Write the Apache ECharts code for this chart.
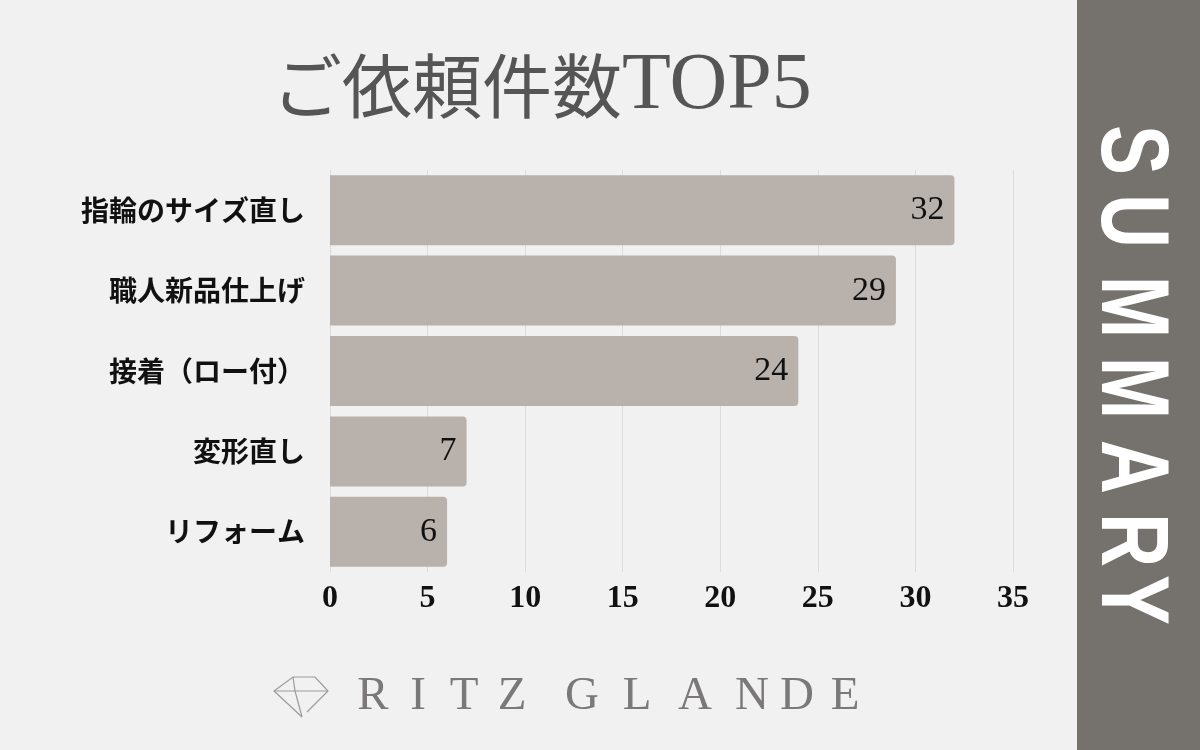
<!DOCTYPE html>
<html>
<head>
<meta charset="utf-8">
<script src="https://cdn.jsdelivr.net/npm/echarts@6/dist/echarts.min.js"></script>
<style>
  html, body { margin: 0; padding: 0; background: #f2f1f2; }
  #chart { width: 1200px; height: 750px; }
</style>
</head>
<body>
<div id="chart"></div>
<script>
const categories = ['指輪のサイズ直し', '職人新品仕上げ', '接着（ロー付）', '変形直し', 'リフォーム'];
const values = [32, 29, 24, 7, 6];
const axisMin = 0;
const axisMax = 35;
const axisStep = 5;
const titleJa = 'ご依頼件数';
const titleEn = 'TOP5';
const sideLetters = ['S', 'U', 'M', 'M', 'A', 'R', 'Y'];
const sideY = [150, 221, 307, 388, 467, 540, 600];
const brandLetters = ['R', 'I', 'T', 'Z', 'G', 'L', 'A', 'N', 'D', 'E'];
const brandX = [373, 418, 464, 512, 582, 637, 695, 752, 797, 845];

const chart = echarts.init(document.getElementById('chart'));

const brandGraphics = brandLetters.map((ch, i) => ({
  type: 'text',
  x: brandX[i],
  y: 697,
  style: {
    text: ch,
    fill: '#7a7878',
    font: 'normal 47px "Liberation Serif", "DejaVu Serif", serif',
    align: 'center',
    verticalAlign: 'middle'
  }
}));

const sideGraphics = sideLetters.map((ch, i) => ({
  type: 'text',
  x: 1128,
  y: sideY[i],
  rotation: -Math.PI / 2,
  scaleX: 0.78,
  style: {
    text: ch,
    fill: '#ffffff',
    font: 'bold 96px "Liberation Sans", "DejaVu Sans", sans-serif',
    align: 'center',
    verticalAlign: 'middle'
  }
}));

const lineStyle = { stroke: '#9c9a9a', lineWidth: 1.2, fill: null };

chart.setOption({
  backgroundColor: '#f2f1f2',
  animation: false,
  grid: { left: 330, right: 187, top: 170, bottom: 178, containLabel: false },
  xAxis: {
    type: 'value',
    min: axisMin,
    max: axisMax,
    interval: axisStep,
    axisLine: { show: false },
    axisTick: { show: false },
    splitLine: { show: true, lineStyle: { color: '#dddbdc', width: 1 } },
    axisLabel: {
      color: '#111',
      fontFamily: '"Liberation Serif", "DejaVu Serif", serif',
      fontWeight: 'bold',
      fontSize: 32,
      margin: 11
    }
  },
  yAxis: {
    type: 'category',
    data: categories,
    inverse: true,
    axisLine: { show: false },
    axisTick: { show: false },
    axisLabel: {
      color: '#111',
      fontFamily: '"Noto Sans CJK JP", sans-serif',
      fontWeight: 'bold',
      fontSize: 28,
      margin: 25
    }
  },
  series: [{
    type: 'bar',
    data: values,
    barWidth: 70,
    itemStyle: { color: '#b9b1ab', borderRadius: [0, 4, 4, 0] },
    label: {
      show: true,
      position: 'insideRight',
      distance: 10,
      color: '#111',
      fontFamily: '"Liberation Serif", "DejaVu Serif", serif',
      fontSize: 34,
      fontWeight: 'normal'
    }
  }],
  graphic: [
    {
      type: 'text',
      x: 272,
      y: 86,
      style: {
        text: titleJa,
        fill: '#555555',
        font: 'normal 70px "Noto Sans CJK JP", serif',
        align: 'left',
        verticalAlign: 'middle'
      }
    },
    {
      type: 'text',
      x: 622,
      y: 87,
      style: {
        text: titleEn,
        fill: '#555555',
        font: 'normal 80px "Liberation Serif", "DejaVu Serif", serif',
        align: 'left',
        verticalAlign: 'middle'
      }
    },
    {
      type: 'rect',
      shape: { x: 1077, y: 0, width: 123, height: 750 },
      style: { fill: '#75716c' }
    },
    ...sideGraphics,
    { type: 'polyline', shape: { points: [[302, 717], [274, 691], [293, 677], [315, 677], [328, 691], [307, 712]] }, style: lineStyle },
    { type: 'line', shape: { x1: 274, y1: 691, x2: 328, y2: 691 }, style: lineStyle },
    { type: 'polyline', shape: { points: [[293, 677], [295, 691], [302, 717]] }, style: lineStyle },
    ...brandGraphics
  ]
});
</script>
</body>
</html>
